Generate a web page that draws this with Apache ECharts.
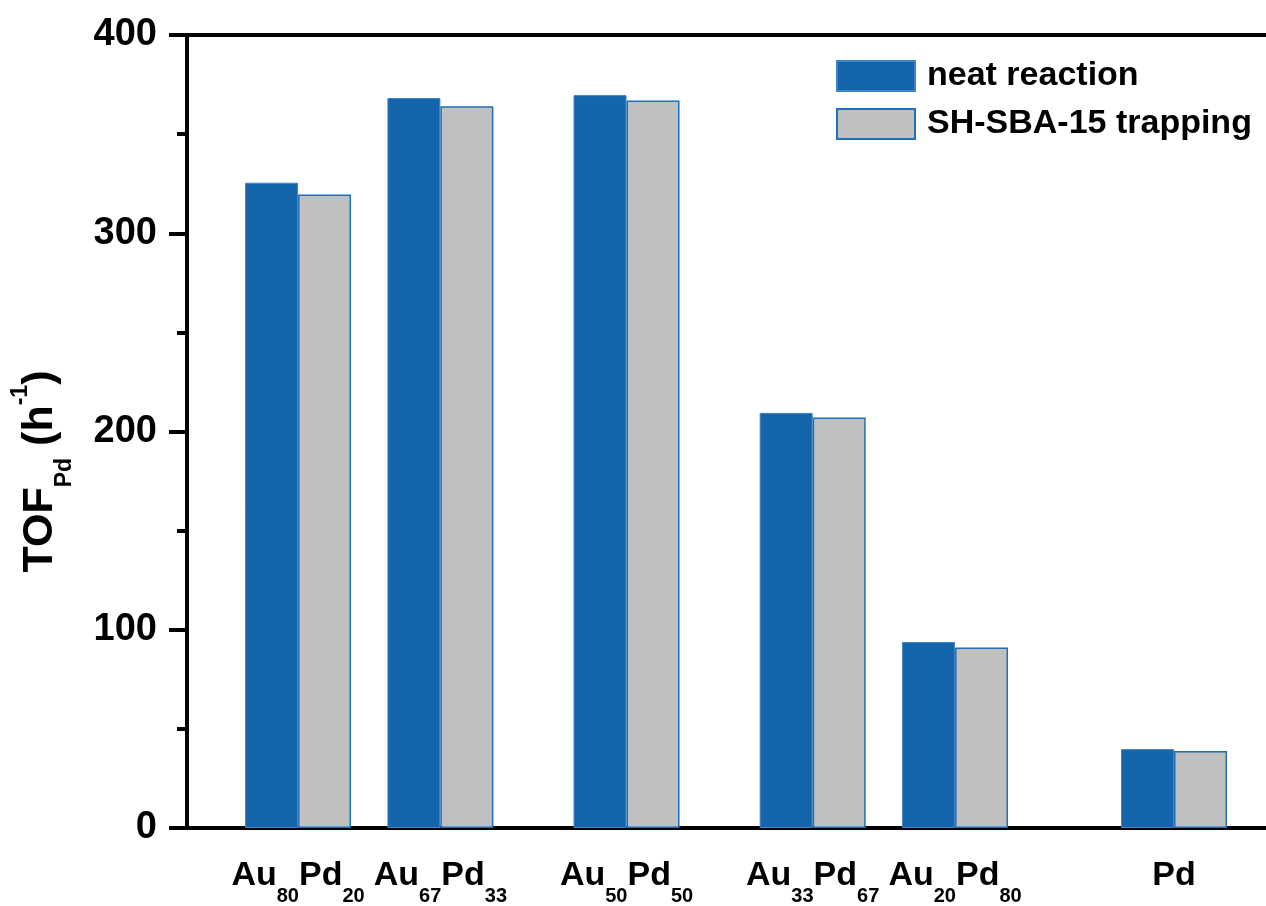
<!DOCTYPE html>
<html><head><meta charset="utf-8">
<script src="https://cdn.jsdelivr.net/npm/echarts@6/dist/echarts.min.js"></script>
<style>html,body{margin:0;padding:0;background:#fff}#c{width:1266px;height:906px}</style>
</head><body><div id="c"></div>
<script>
// Pd content (%) of each catalyst -> x position
const pdPercent = [20, 33, 50, 67, 80, 100];
const auSub = ['80', '67', '50', '33', '20', ''];
const pdSub = ['20', '33', '50', '67', '80', ''];
const neatReaction = [325.5, 368.2, 369.7, 209.4, 93.8, 39.8];
const trapping = [319.6, 364.0, 367.0, 207.0, 91.0, 38.8];
const yTicks = [0, 100, 200, 300, 400];
const xRange = [9.86, 108.4];
const seriesNames = ['neat reaction', 'SH-SBA-15 trapping'];

const FONT = '"Liberation Sans", Arial, sans-serif';
const chart = echarts.init(document.getElementById('c'), null, {renderer: 'canvas'});

function xLabel(v) {
  const i = pdPercent.indexOf(v);
  if (i < 0) return '';
  if (!auSub[i]) return '{m|Pd}';
  return '{m|Au}{s|' + auSub[i] + '}{m|Pd}{s|' + pdSub[i] + '}';
}

const option = {
  backgroundColor: '#ffffff',
  animation: false,
  textStyle: {fontFamily: FONT},
  grid: {left: 187, top: 35, right: 0, bottom: 75, containLabel: false},
  legend: {
    data: seriesNames,
    orient: 'vertical',
    left: 836, top: 59,
    padding: 0,
    itemWidth: 78, itemHeight: 30, itemGap: 14,
    icon: 'rect',
    textStyle: {fontFamily: FONT, fontSize: 34, fontWeight: 'bold', color: '#000', lineHeight: 30, padding: [0, 0, 0, 7]}
  },
  xAxis: [{
    type: 'value', min: xRange[0], max: xRange[1],
    axisLine: {show: true, onZero: false, lineStyle: {color: '#000', width: 4}},
    axisTick: {show: false},
    splitLine: {show: false},
    axisLabel: {
      customValues: pdPercent,
      formatter: xLabel,
      margin: 31,
      color: '#000',
      rich: {
        m: {fontFamily: FONT, fontSize: 34, fontWeight: 'bold', color: '#000', verticalAlign: 'top'},
        s: {fontFamily: FONT, fontSize: 20, fontWeight: 'bold', color: '#000', verticalAlign: 'top', padding: [27, 0, 0, 0]}
      }
    }
  }, {
    type: 'value', min: xRange[0], max: xRange[1], position: 'top',
    axisLine: {show: true, onZero: false, lineStyle: {color: '#000', width: 4}},
    axisTick: {show: false}, axisLabel: {show: false}, splitLine: {show: false}
  }],
  yAxis: {
    type: 'value', min: yTicks[0], max: yTicks[yTicks.length - 1], interval: 100,
    axisLine: {show: true, lineStyle: {color: '#000', width: 4}},
    axisTick: {show: true, inside: false, length: 18, lineStyle: {color: '#000', width: 4}},
    minorTick: {show: true, splitNumber: 2, length: 10, lineStyle: {color: '#000', width: 4}},
    splitLine: {show: false},
    axisLabel: {fontFamily: FONT, fontSize: 38, fontWeight: 'bold', color: '#000', margin: 30},
    name: '{m|TOF}{s|Pd}{m| (h}{p|-1}{m|)}',
    nameLocation: 'middle',
    nameRotate: 90,
    nameGap: 111,
    nameTextStyle: {
      padding: [0, 80, 0, 0],
      rich: {
        m: {fontFamily: FONT, fontSize: 43, fontWeight: 'bold', color: '#000', verticalAlign: 'top', padding: [10, 0, 0, 0]},
        s: {fontFamily: FONT, fontSize: 23, fontWeight: 'bold', color: '#000', verticalAlign: 'top', padding: [44, 0, 0, 0]},
        p: {fontFamily: FONT, fontSize: 23, fontWeight: 'bold', color: '#000', verticalAlign: 'top', padding: [0, 0, 0, 0]}
      }
    }
  },
  series: [{
    name: seriesNames[0], type: 'bar', barWidth: 53, barGap: '0%',
    itemStyle: {color: '#1565AC', borderColor: '#3f86c8', borderWidth: 1},
    data: neatReaction.map((v, i) => [pdPercent[i], v])
  }, {
    name: seriesNames[1], type: 'bar', barWidth: 53, barGap: '0%',
    itemStyle: {color: '#C0C0C0', borderColor: '#1f6fb8', borderWidth: 1.5},
    data: trapping.map((v, i) => [pdPercent[i], v])
  }]
};
chart.setOption(option);
</script>
</body></html>
